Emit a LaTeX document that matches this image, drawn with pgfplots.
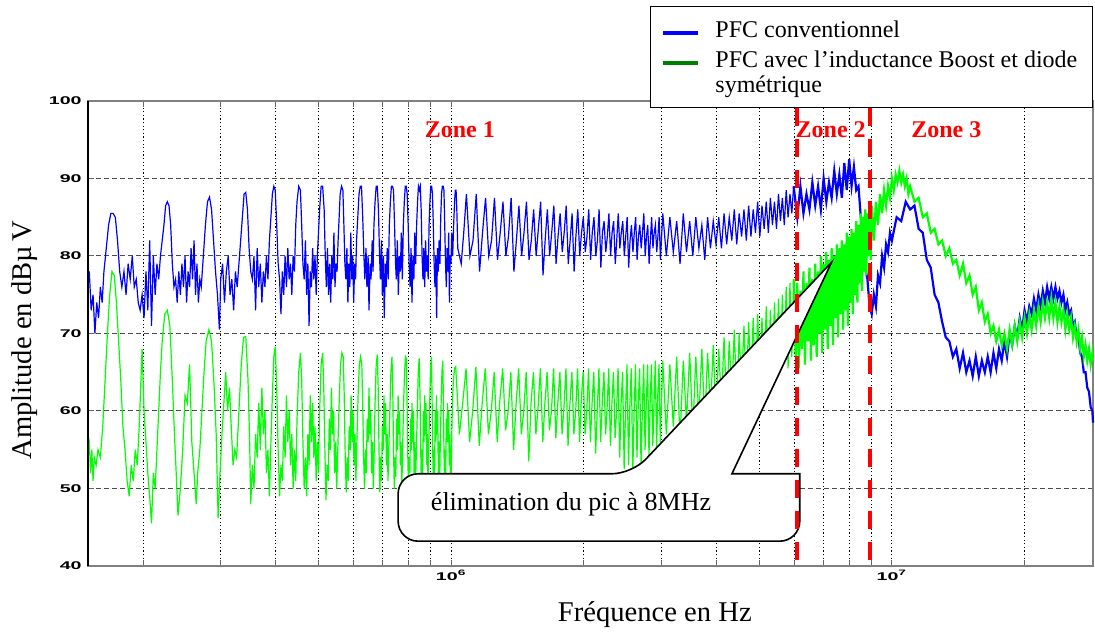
\documentclass[border=0pt]{standalone}
\usepackage{fontspec}
\setmainfont{Liberation Serif}
\newfontfamily\tickfont[FakeStretch=1.75]{Liberation Sans}
\usepackage{pgfplots}
\pgfplotsset{compat=1.18}
\definecolor{mblue}{RGB}{0,0,255}
\definecolor{mgreen}{RGB}{0,255,0}
\definecolor{lgreen}{RGB}{0,128,0}
\definecolor{mred}{RGB}{255,0,0}
\begin{document}
\begin{tikzpicture}
\begin{axis}[
  name=ax,
  scale only axis,
  width=502.5pt, height=232.5pt,
  clip=false,
  xmode=log,
  xmin=1.5e5, xmax=2.86e7,
  ymin=40, ymax=100,
  ytick={40,50,60,70,80,90,100},
  yticklabels={40,50,60,70,80,90,100},
  xtick={1e6,1e7},
  xticklabels={10\textsuperscript{6},10\textsuperscript{7}},
  minor xtick={2e5,3e5,4e5,5e5,6e5,7e5,8e5,9e5,2e6,3e6,4e6,5e6,6e6,7e6,8e6,9e6,2e7},
  xmajorgrids, xminorgrids, ymajorgrids,
  major x grid style={black, line width=0.5pt, dash pattern=on 0.6pt off 1.2pt},
  minor x grid style={black, line width=0.5pt, dash pattern=on 0.6pt off 1.2pt},
  major y grid style={black!70, line width=0.5pt, dash pattern=on 2.5pt off 1.5pt},
  tick align=inside,
  xtick pos=both, ytick pos=left,
  major tick length=3pt, minor tick length=3pt,
  tick style={black!60, line width=0.5pt},
  axis line style={black!50, line width=0.6pt},
  tick label style={font=\tickfont\bfseries\fontsize{5.6}{6}\selectfont},
  yticklabel style={inner sep=0pt, xshift=-3pt},
  xticklabel style={inner sep=0pt, yshift=-2pt},
  xlabel={Fréquence en Hz},
  ylabel={Amplitude en dBµ\,V},
  label style={font=\fontsize{14.3}{16}\selectfont},
  xlabel style={at={(axis description cs:0.564,-0.105)}, anchor=center},
  ylabel style={at={(axis description cs:-0.0627,0.486)}, anchor=center, rotate=0},
]
% blue : PFC conventionnel (150 kHz - 6 MHz)
\addplot[mblue, line width=0.6pt] coordinates {
(150e3,76)(151e3,78)(152.5e3,73)(154e3,75)(155.5e3,70)(157e3,74)(158.5e3,72)(160e3,76)(161.5e3,74)(163e3,78)(165e3,81)(167e3,84)(169e3,85.5)(171e3,85.5)(173e3,85)(175e3,82)(177e3,78)
(179e3,76)(181e3,78)(183e3,75)(185e3,79)(187e3,77)(189e3,80)(191e3,76)(193e3,77)(195e3,74)(197e3,73)(199e3,75)(201e3,72)(203e3,78)(205e3,73)(207e3,82)(209e3,71)(211e3,80)(213e3,75)(215e3,79)(217e3,77)(219e3,80)(221e3,82)(223e3,84)(225e3,86.5)(227e3,87)(229e3,86.5)(231e3,84)(233e3,79)(235e3,76)
(237e3,77)(239e3,74)(241e3,78)(243e3,75)(245e3,79)(247e3,76)(249e3,80)(251e3,74)(253e3,78)(255e3,76)(257e3,81)(259e3,77)(261e3,82)(263e3,75)(265e3,79)(267e3,74)(269e3,77)(271e3,76)(274e3,80)(277e3,84)(280e3,87)(283e3,87.6)(286e3,86)(289e3,82)(292e3,78)
(295e3,75)(298e3,70.5)(300e3,77)(303e3,79)(306e3,74)(309e3,78)(312e3,80)(315e3,75)(318e3,77)(321e3,73)(324e3,78)(327e3,76)(330e3,79)(333e3,82)(336e3,85)(339e3,88)(342e3,88.2)(345e3,86)(348e3,81)(351e3,78)
(354e3,77)(357e3,80)(360e3,73)(363e3,81)(366e3,76)(369e3,79)(372e3,74)(375e3,78)(378e3,76)(381e3,80)(384e3,77)(387e3,82)(390e3,85)(393e3,88)(396e3,89)(399e3,88.5)(402e3,84)(405e3,79)(408e3,77)
(411e3,72.5)(414e3,78)(417e3,75)(420e3,80)(423e3,76)(426e3,81)(429e3,77)(432e3,79)(435e3,75)(438e3,80)(441e3,78)(444e3,84)(447e3,87)(451e3,89)(455e3,88.5)(458e3,84)(461e3,79)
(464e3,77)(467e3,82)(470e3,75)(473e3,79)(476e3,71)(479e3,78)(482e3,76)(485e3,81)(488e3,77)(491e3,80)(494e3,75)(497e3,80)(500e3,83)(503e3,86)(507e3,89)(511e3,89)(515e3,86)(518e3,80)
(521e3,76)(524e3,81)(527e3,75)(530e3,79)(533e3,74)(536e3,80)(539e3,77)(542e3,83)(545e3,76)(548e3,79)(551e3,78)(554e3,82)(557e3,85)(560e3,88)(564e3,89)(568e3,88.5)(571e3,84)(574e3,79)
(577e3,77)(580e3,81)(583e3,74)(586e3,79)(589e3,76)(592e3,83)(595e3,77)(598e3,80)(601e3,74)(604e3,79)(607e3,77)(610e3,82)(614e3,85)(618e3,88)(622e3,89)(626e3,89)(630e3,85)(634e3,80)
(637e3,77)(641e3,81)(644e3,76)(648e3,80)(651e3,73)(655e3,79)(658e3,77)(662e3,82)(665e3,78)(668e3,84)(672e3,87)(676e3,89)(680e3,89)(684e3,86)(688e3,80)
(691e3,77)(695e3,82)(698e3,75)(702e3,80)(705e3,72)(709e3,79)(712e3,76)(716e3,81)(720e3,77)(724e3,84)(728e3,87)(732e3,89)(736e3,89)(740e3,88.5)(744e3,84)(748e3,79)
(751e3,77)(755e3,82)(759e3,75)(763e3,80)(767e3,78)(771e3,83)(775e3,77)(779e3,84)(783e3,87)(787e3,89)(791e3,89)(795e3,88)(799e3,84)(803e3,79)
(807e3,76)(811e3,81)(815e3,74)(819e3,80)(823e3,77)(827e3,83)(831e3,79)(835e3,84)(839e3,87)(843e3,89)(847e3,88.5)(851e3,89)(855e3,86)(859e3,80)
(863e3,77)(867e3,81)(871e3,76)(875e3,82)(879e3,78)(883e3,80)(887e3,77)(891e3,84)(895e3,87)(899e3,89)(903e3,89)(907e3,88)(911e3,84)(915e3,79)
(919e3,76)(923e3,80)(927e3,72)(931e3,81)(935e3,78)(939e3,82)(943e3,79)(947e3,85)(951e3,88)(955e3,89)(959e3,89)(963e3,88.5)(967e3,84)(971e3,79)
(975e3,76)(979e3,81)(983e3,78)(987e3,83)(991e3,74)(995e3,80)(999e3,79)(1003e3,83)(1008e3,80)(1013e3,84)(1018e3,87)(1022e3,88.5)(1026e3,88.5)(1030e3,86)(1035e3,81)
(1054e3,79)(1068e3,83)(1083e3,88)(1103e3,80)(1121e3,82)(1140e3,88)(1160e3,78)(1178e3,83)(1197e3,87.5)(1217e3,80)(1235e3,82)(1254e3,87.5)(1274e3,79.5)(1292e3,83)(1311e3,87)(1331e3,80)(1349e3,82.5)(1368e3,87.5)(1388e3,78)(1406e3,82)(1425e3,86.5)(1445e3,80)(1463e3,83)(1482e3,87)(1502e3,79.5)(1520e3,82)(1539e3,86)(1559e3,80)(1577e3,83.5)(1596e3,87)(1616e3,77.5)(1634e3,82)(1653e3,86)(1673e3,80)(1691e3,83)(1710e3,86.5)(1730e3,79)(1748e3,82.5)(1767e3,85.5)(1787e3,80.5)(1805e3,83)(1824e3,86.5)(1844e3,79)(1862e3,82)(1881e3,85.5)(1901e3,78)(1919e3,82.5)(1938e3,86)(1958e3,80)(1976e3,83)(1995e3,85)
(2015e3,80.5)(2033e3,82.5)(2052e3,86)(2072e3,79.5)(2090e3,83)(2109e3,85)(2129e3,80)(2147e3,82)(2166e3,86)(2186e3,78.5)(2204e3,83)(2223e3,84.5)(2243e3,80.5)(2261e3,82.5)(2280e3,85.5)(2300e3,80)(2318e3,83)(2337e3,84.5)(2357e3,79)(2375e3,82)(2394e3,85.5)(2414e3,81)(2432e3,83)(2451e3,84.5)(2471e3,80)(2489e3,82.5)(2508e3,85)(2528e3,78.5)(2546e3,82)(2565e3,84)(2585e3,80.5)(2603e3,83)(2622e3,85)(2642e3,79.5)(2660e3,82.5)(2679e3,84)(2699e3,81)(2717e3,83)(2736e3,85.5)(2756e3,80)(2774e3,82.5)(2793e3,84)(2813e3,79)(2831e3,82)(2850e3,85)(2870e3,81)(2888e3,83)(2907e3,84)(2927e3,80.5)(2945e3,82.5)(2964e3,85)(2984e3,79.5)
(3021e3,85.5)(3078e3,80)(3135e3,85)(3192e3,80.5)(3249e3,84.5)(3306e3,79)(3363e3,85.5)(3420e3,80.5)(3477e3,84.5)(3534e3,80)(3591e3,85)(3648e3,81)(3705e3,84)(3762e3,79.5)(3819e3,85)(3876e3,81)(3933e3,84.5)(3990e3,81.5)(4047e3,85)(4104e3,81)(4161e3,85.5)(4218e3,81.5)(4275e3,85)(4332e3,82)(4389e3,86)(4446e3,81.5)(4503e3,85.5)(4560e3,82.5)(4617e3,86)(4674e3,82)(4731e3,86.5)(4788e3,82.5)(4845e3,86)(4902e3,83)(4959e3,87)(5016e3,82.5)(5073e3,86.5)(5130e3,83.5)(5187e3,87)(5244e3,83)(5301e3,87.5)(5358e3,84)(5415e3,87)(5472e3,83.5)(5529e3,88)(5586e3,84.5)(5643e3,87.5)(5700e3,84)(5757e3,88.5)(5814e3,85)(5871e3,88)(5928e3,85.5)(5985e3,89)
};
% blue : PFC conventionnel (6 MHz - 28.6 MHz)
\addplot[mblue, line width=1.1pt] coordinates {
(5985e3,89)(6.0e6,88.5)(6.1e6,85)(6.2e6,89)(6.3e6,85.5)(6.4e6,88)(6.5e6,86)(6.6e6,89.5)(6.7e6,86.5)(6.8e6,89)(6.9e6,86)(7.0e6,90)(7.1e6,87)(7.2e6,89.5)(7.3e6,87.5)(7.4e6,91)(7.5e6,88)(7.6e6,90.5)(7.7e6,87.5)(7.8e6,92)(7.9e6,88.5)(8.0e6,92.5)(8.1e6,89)(8.2e6,91.5)(8.3e6,88.5)(8.4e6,89)(8.5e6,85)(8.6e6,84)(8.7e6,78.5)(8.8e6,77)(8.9e6,73.5)(9.0e6,72.5)(9.1e6,75)(9.2e6,73.5)(9.3e6,77.5)(9.4e6,76.5)(9.5e6,80)(9.6e6,78.5)(9.7e6,81.5)(9.8e6,80.5)(9.9e6,83)(10.0e6,82)
(10.25e6,85)(10.5e6,84.5)(10.75e6,87)(11.0e6,86)(11.25e6,86.5)(11.5e6,83.5)(11.75e6,83)(12.0e6,79.5)(12.25e6,78.5)(12.5e6,75)(12.75e6,74)(13.0e6,71.5)(13.25e6,69.5)(13.5e6,69)(13.75e6,67)(14.0e6,68)(14.25e6,65.5)(14.5e6,67.5)(14.75e6,65)(15.0e6,66.5)(15.25e6,64.5)(15.5e6,67)(15.75e6,64.5)(16.0e6,66.5)(16.25e6,65)(16.5e6,67)(16.75e6,65)(17.0e6,67.5)(17.25e6,65.5)(17.5e6,68)(17.75e6,66.5)(18.0e6,69)(18.25e6,67)(18.5e6,70)(18.75e6,68.5)(19.0e6,71)(19.25e6,69.5)(19.5e6,72)(19.75e6,70.5)
(20.0e6,73)(20.25e6,71.5)(20.5e6,73.5)(20.75e6,72.5)(21.0e6,74.5)(21.25e6,73)(21.5e6,75)(21.75e6,73.5)(22.0e6,75.5)(22.25e6,74)(22.5e6,76)(22.75e6,74.5)(23.0e6,76)(23.25e6,74.5)(23.5e6,76)(23.75e6,74.5)(24.0e6,75.5)(24.25e6,74)(24.5e6,75)(24.75e6,73)(25.0e6,74)(25.25e6,72.5)(25.5e6,73)(25.75e6,71)(26.0e6,71.5)(26.25e6,69.5)(26.5e6,69.5)(26.75e6,67.5)(27.0e6,67)(27.25e6,65)(27.5e6,65)(27.75e6,63)(28.0e6,62.5)(28.25e6,60.5)(28.5e6,60)(28.6e6,58.5)
};
% green : PFC avec l'inductance Boost et diode symetrique (150 kHz - 6 MHz)
\addplot[mgreen, line width=0.6pt] coordinates {
(150e3,57)(151e3,56)(152e3,52)(153e3,55)(154e3,51)(155e3,54)(156.5e3,53)(158e3,55)(160e3,54)(162e3,58)(164e3,64)(166e3,70)(168e3,75)(170e3,78)(172e3,77.5)(174e3,74)(176e3,69)(178e3,64)(180e3,58)(182e3,55)(184e3,51)(186e3,49)(188e3,53)(190e3,51)(192e3,55)(194e3,53)(196e3,58)(199e3,68)(201e3,60)(203e3,56)(205e3,52)(207e3,49)(209e3,45.5)(211e3,52)(213e3,50)(215e3,55)(217e3,60)(219e3,65)(221e3,69)(224e3,72.5)(227e3,73)(230e3,71)(233e3,64)(236e3,56)(238e3,51.5)(240e3,46.5)(243e3,50)(246e3,55)(249e3,62)(252e3,61)(255e3,66)(258e3,56)(261e3,52)(264e3,48)(266e3,52)(269e3,55)(272e3,60)(275e3,65)(278e3,69)(282e3,70.5)(286e3,69)(290e3,63)(293e3,57)(296e3,46.2)(299e3,52)(302e3,57)(305e3,61)(308e3,65)(311e3,60)(314e3,63)(317e3,58)(320e3,53)(323e3,55)(326e3,54)(330e3,60)(334e3,66)(338e3,69.5)(342e3,69.6)
(346e3,64)(349e3,56)(351e3,48)(354e3,53)(357e3,50)(360e3,57)(363e3,54)(366e3,61)(369e3,55)(372e3,63)(375e3,57)(378e3,60)(381e3,52)(384e3,55)(387e3,49)(390e3,56)(393e3,62)(396e3,67)(399e3,68.3)
(402e3,63)(405e3,55)(408e3,49)(411e3,53)(414e3,51)(417e3,58)(420e3,54)(423e3,62)(426e3,56)(429e3,60)(432e3,53)(435e3,57)(438e3,50)(441e3,55)(444e3,51)(447e3,59)(451e3,65)(455e3,67.5)
(458e3,64)(461e3,56)(464e3,50)(467e3,54)(470e3,49)(473e3,57)(476e3,53)(479e3,62)(482e3,56)(485e3,61)(488e3,54)(491e3,58)(494e3,51)(497e3,56)(500e3,52)(503e3,60)(507e3,66)(511e3,67.5)
(514e3,63)(517e3,55)(520e3,48.5)(523e3,53)(526e3,51)(529e3,59)(532e3,55)(535e3,63)(538e3,57)(541e3,60)(544e3,52)(547e3,56)(550e3,50)(553e3,55)(557e3,61)(561e3,66)(565e3,67.5)
(569e3,67)(572e3,62)(575e3,54)(578e3,49.5)(581e3,54)(584e3,51)(587e3,58)(590e3,55)(593e3,62)(596e3,56)(599e3,60)(602e3,53)(605e3,57)(608e3,51)(611e3,56)(615e3,62)(619e3,66)(623e3,67)
(627e3,66)(630e3,61)(633e3,54)(636e3,50)(639e3,55)(642e3,52)(645e3,59)(648e3,56)(651e3,63)(654e3,57)(657e3,60)(660e3,52)(663e3,56)(666e3,50)(669e3,55)(672e3,61)(676e3,66)(680e3,67.3)
(683e3,63)(686e3,55)(689e3,49.5)(692e3,54)(695e3,51)(698e3,58)(701e3,55)(704e3,62)(707e3,57)(710e3,61)(713e3,53)(716e3,57)(719e3,51)(722e3,55)(726e3,60)(730e3,65)(734e3,67)
(737e3,63)(740e3,55)(743e3,50)(746e3,54)(749e3,51.5)(752e3,59)(755e3,55)(758e3,62)(761e3,57)(764e3,60)(767e3,53)(770e3,56)(773e3,50)(776e3,55)(780e3,61)(784e3,65)(788e3,67)(791e3,66.8)
(794e3,62)(797e3,55)(800e3,50)(803e3,54)(806e3,52)(809e3,59)(812e3,55)(815e3,61)(818e3,56)(821e3,60)(824e3,52)(827e3,56)(830e3,50.5)(834e3,55)(838e3,60)(842e3,65)(846e3,66.8)
(850e3,62)(853e3,55)(856e3,50)(859e3,55)(862e3,52)(865e3,60)(868e3,56)(871e3,62)(874e3,57)(877e3,61)(880e3,53)(883e3,57)(886e3,51)(890e3,56)(894e3,61)(898e3,65.5)(902e3,67)
(905e3,62)(908e3,55)(911e3,51)(914e3,55)(917e3,52)(920e3,60)(923e3,56)(926e3,62)(929e3,57)(932e3,60)(935e3,52)(938e3,56)(941e3,50)(945e3,56)(949e3,61)(953e3,65)(957e3,66.5)
(960e3,62)(963e3,55)(966e3,51)(969e3,55)(972e3,52)(975e3,59)(978e3,56)(981e3,61)(984e3,56)(987e3,60)(990e3,53)(993e3,57)(996e3,51)(1000e3,52)(1004e3,58)(1008e3,62)(1012e3,64)(1018e3,65.5)(1024e3,65.7)
(1044e3,57)(1062e3,61)(1081e3,65.5)(1101e3,56)(1119e3,60)(1138e3,65.7)(1158e3,55.5)(1176e3,61)(1195e3,65.5)(1215e3,57)(1233e3,60)(1252e3,65)(1272e3,56)(1290e3,61.5)(1309e3,65.5)(1329e3,57.5)(1347e3,60)(1366e3,65)(1386e3,55)(1404e3,61)(1423e3,65.5)(1443e3,57)(1461e3,60)(1480e3,65)(1500e3,53.5)(1518e3,61)(1537e3,65)(1557e3,57)(1575e3,60.5)(1594e3,65.5)(1614e3,56)(1632e3,61)(1651e3,65)(1671e3,57.5)(1689e3,60)(1708e3,65.5)(1728e3,56.5)(1746e3,61)(1765e3,65)(1785e3,57)(1803e3,60.5)(1822e3,65.5)(1842e3,55.5)(1860e3,61)(1879e3,65)(1899e3,57)(1917e3,60)(1936e3,65.5)(1956e3,56)(1974e3,61.5)(1993e3,65)
(2013e3,57)(2031e3,60)(2050e3,65.5)(2070e3,56)(2088e3,61)(2107e3,65)(2127e3,54.5)(2145e3,60)(2164e3,65.5)(2184e3,56)(2202e3,61)(2221e3,65)(2241e3,57)(2259e3,60.5)(2278e3,65.5)(2298e3,55.5)(2316e3,61)(2335e3,65)(2355e3,56.5)(2373e3,60)(2392e3,65.5)(2412e3,54)(2430e3,61)(2449e3,65)(2469e3,52.5)(2487e3,60)(2506e3,66)(2526e3,53)(2544e3,61)(2563e3,65.5)(2583e3,52)(2601e3,60)(2620e3,66)(2640e3,54)(2658e3,61)(2677e3,65.5)(2697e3,52.5)(2715e3,60)(2734e3,66)(2754e3,55)(2772e3,61)(2791e3,66)(2811e3,54)(2829e3,61.5)(2848e3,66)(2868e3,55.5)(2886e3,61)(2905e3,66.5)(2925e3,55)(2943e3,62)(2962e3,66)(2982e3,56)
(3021e3,66.5)(3078e3,57)(3135e3,66)(3192e3,58)(3249e3,67)(3306e3,56.5)(3363e3,66.5)(3420e3,58.5)(3477e3,67.5)(3534e3,57.5)(3591e3,67)(3648e3,59)(3705e3,68)(3762e3,58.5)(3819e3,67.5)(3876e3,60)(3933e3,68.5)(3990e3,59.5)(4047e3,68)(4104e3,61)(4161e3,69.5)(4218e3,60.5)(4275e3,69)(4332e3,62)(4389e3,70.5)(4446e3,61.5)(4503e3,70)(4560e3,63)(4617e3,71)(4674e3,62.5)(4731e3,71.5)(4788e3,63.5)(4845e3,72)(4902e3,63)(4959e3,72.5)(5016e3,64.5)(5073e3,72)(5130e3,64)(5187e3,73.5)(5244e3,65)(5301e3,73)(5358e3,65.5)(5415e3,74)(5472e3,65)(5529e3,74.5)(5586e3,66)(5643e3,75)(5700e3,66.5)(5757e3,76)(5814e3,65.5)(5871e3,76.5)(5928e3,67)(5985e3,77)
};
% green (6 MHz - 28.6 MHz)
\addplot[mgreen, line width=1.1pt] coordinates {
(5985e3,77)(6.05e6,67)(6.10e6,76.5)(6.15e6,65.5)(6.20e6,75.5)(6.25e6,68)(6.30e6,78)(6.35e6,66)(6.40e6,76.5)(6.45e6,69)(6.50e6,78.5)(6.55e6,66.5)(6.60e6,77)(6.65e6,68.5)(6.70e6,79)(6.75e6,67)(6.80e6,78)(6.85e6,70)(6.90e6,80)(6.95e6,67.5)(7.00e6,79)(7.05e6,70.5)(7.10e6,80.5)(7.15e6,68)(7.20e6,79.5)(7.25e6,71)(7.30e6,81)(7.35e6,68.5)(7.40e6,80)(7.45e6,72)(7.50e6,81.5)(7.55e6,69.5)(7.60e6,81)(7.65e6,72.5)(7.70e6,82)(7.75e6,70.5)(7.80e6,81.5)(7.85e6,73)(7.90e6,83)(7.95e6,71)(8.00e6,82.5)(8.05e6,74)(8.10e6,83.5)(8.15e6,72.5)(8.20e6,83)(8.25e6,75)(8.30e6,84.5)(8.35e6,74)(8.40e6,84)(8.45e6,76.5)(8.50e6,85.5)(8.55e6,75.5)(8.60e6,85)(8.65e6,78)(8.70e6,86)(8.75e6,77.5)(8.80e6,85.5)(8.85e6,80)(8.90e6,87)(8.95e6,79.5)(9.00e6,86.5)
(9.1e6,82)(9.2e6,87)(9.3e6,84)(9.4e6,88)(9.5e6,85.5)(9.6e6,88.5)(9.7e6,86.5)(9.8e6,89)(9.9e6,87.5)(10.0e6,90)(10.1e6,88.5)(10.2e6,90.5)(10.3e6,89.5)(10.4e6,91)(10.5e6,89.5)(10.6e6,90.5)(10.7e6,89)(10.8e6,90)(10.9e6,88)(11.0e6,89)(11.25e6,87)(11.5e6,87.5)(11.75e6,85)(12.0e6,85.5)(12.25e6,83)(12.5e6,83.5)(12.75e6,81.5)(13.0e6,82)(13.25e6,80)(13.5e6,81)(13.75e6,79)(14.0e6,79.5)(14.25e6,77.5)(14.5e6,79)(14.75e6,76.5)(15.0e6,77.5)(15.25e6,75)(15.5e6,76)(15.75e6,73)(16.0e6,74)(16.25e6,71.5)(16.5e6,72.5)(16.75e6,70)(17.0e6,71)(17.25e6,69)(17.5e6,70.5)(17.75e6,68.5)(18.0e6,70)(18.25e6,68)(18.5e6,70.5)(18.75e6,68.5)(19.0e6,71)(19.25e6,69)(19.5e6,71.5)(19.75e6,69.5)
(20.0e6,72)(20.25e6,70)(20.5e6,72.5)(20.75e6,70.5)(21.0e6,73)(21.25e6,71)(21.5e6,73.5)(21.75e6,71.5)(22.0e6,74)(22.25e6,72)(22.5e6,74)(22.75e6,72)(23.0e6,74.5)(23.25e6,72)(23.5e6,74)(23.75e6,71.5)(24.0e6,73.5)(24.25e6,71.5)(24.5e6,73)(24.75e6,70.5)(25.0e6,72.5)(25.25e6,70.5)(25.5e6,72)(25.75e6,69.5)(26.0e6,71)(26.25e6,69)(26.5e6,70.5)(26.75e6,68)(27.0e6,69.5)(27.25e6,67)(27.5e6,68.5)(27.75e6,66.5)(28.0e6,68)(28.25e6,66)(28.5e6,67.5)(28.6e6,66.5)
};
% callout
\draw[black, line width=0.8pt, fill=white] (axis cs:2.573e6,51.9) -- (axis cs:7.3e6,79.2) -- (axis cs:4.336e6,51.9) -- (axis cs:6.18e6,51.9) [rounded corners=10pt] -- (axis cs:6.18e6,43.2) -- (axis cs:7.58e5,43.2) -- (axis cs:7.58e5,51.9) -- cycle;
\node[font=\fontsize{13}{15}\selectfont, inner sep=0pt] at (axis cs:1.871e6,48.0) {élimination du pic à 8MHz};
% zone boundaries
\addplot[mred, line width=2pt, dash pattern=on 9pt off 6.5pt] coordinates {(6.09e6,99.1) (6.09e6,39.9)};
\addplot[mred, line width=2pt, dash pattern=on 9pt off 6.5pt] coordinates {(8.91e6,99.1) (8.91e6,39.9)};
\node[text=mred, font=\bfseries\fontsize{12}{14}\selectfont] at (axis description cs:0.370,0.9376) {Zone 1};
\node[text=mred, font=\bfseries\fontsize{12}{14}\selectfont] at (axis description cs:0.739,0.9376) {Zone 2};
\node[text=mred, font=\bfseries\fontsize{12}{14}\selectfont] at (axis description cs:0.854,0.9376) {Zone 3};
% left axis line
\draw[black, line width=0.9pt] (axis description cs:0,0) -- (axis description cs:0,1);
% legend
\node[draw=black, line width=0.6pt, fill=white, minimum width=221pt, minimum height=50.5pt, anchor=north west, inner sep=0pt] (leg) at (axis description cs:0.5592,1.2043) {};
\draw[mblue, line width=2pt] ([shift={(6.5pt,-13.5pt)}]leg.north west) -- ++(17.5pt,0pt);
\draw[lgreen, line width=2pt] ([shift={(6.5pt,-28.5pt)}]leg.north west) -- ++(17.5pt,0pt);
\node[anchor=base west, inner sep=0pt, font=\fontsize{12}{14}\selectfont] at ([shift={(32.5pt,-16pt)}]leg.north west) {PFC conventionnel};
\node[anchor=base west, inner sep=0pt, font=\fontsize{12}{14}\selectfont] at ([shift={(32.5pt,-31pt)}]leg.north west) {PFC avec l'inductance Boost et diode};
\node[anchor=base west, inner sep=0pt, font=\fontsize{12}{14}\selectfont] at ([shift={(32.5pt,-43.5pt)}]leg.north west) {symétrique};
\end{axis}
\pgfresetboundingbox
\path ([shift={(-44pt,-35pt)}]ax.south west) rectangle ([shift={(1pt,50.5pt)}]ax.north east);
\end{tikzpicture}
\end{document}
